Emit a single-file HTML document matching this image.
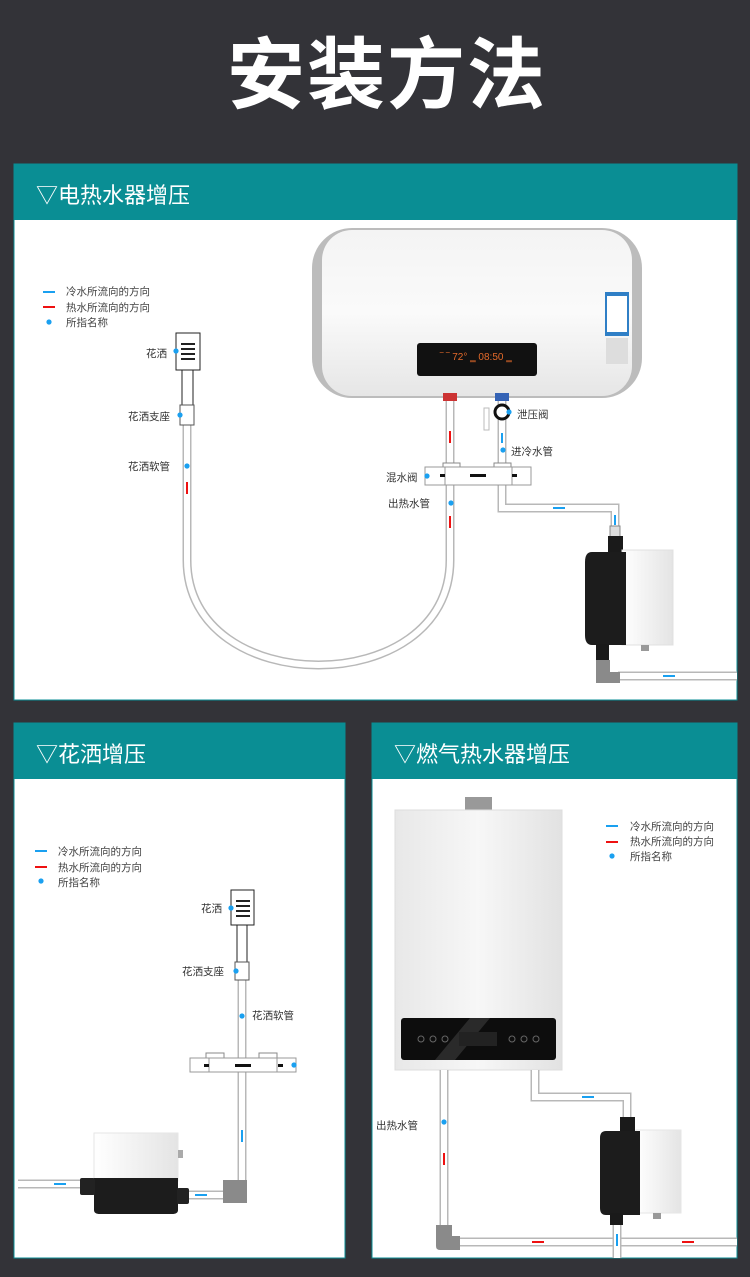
<!DOCTYPE html>
<html><head><meta charset="utf-8"><style>
html,body{margin:0;padding:0;background:#333338;}
body{width:750px;height:1272px;overflow:hidden;}
text{font-family:"Liberation Sans","Noto Sans CJK SC",sans-serif;}
</style></head><body>
<svg width="750" height="1272" viewBox="0 0 750 1272" xmlns="http://www.w3.org/2000/svg">
<defs>
<linearGradient id="tank" x1="0" y1="0" x2="0" y2="1"><stop offset="0" stop-color="#f4f4f4"/><stop offset="0.5" stop-color="#fafafa"/><stop offset="1" stop-color="#e6e6e6"/></linearGradient>
<linearGradient id="gas" x1="0" y1="0" x2="1" y2="0"><stop offset="0" stop-color="#e8e8e8"/><stop offset="0.5" stop-color="#f7f7f7"/><stop offset="1" stop-color="#e2e2e2"/></linearGradient>
<linearGradient id="wh" x1="0" y1="0" x2="1" y2="0"><stop offset="0" stop-color="#fff"/><stop offset="1" stop-color="#e4e4e4"/></linearGradient>
</defs>
<rect width="750" height="1272" fill="#333338"/>
<text x="387" y="102" font-size="78" font-weight="bold" fill="#fff" text-anchor="middle" letter-spacing="2">安装方法</text>

<!-- Panel 1 -->
<rect x="14" y="164" width="723" height="536" fill="#fff" stroke="#0a8e94" stroke-width="1"/>
<rect x="14" y="164" width="723" height="56" fill="#0a8e94"/>
<text x="36" y="203" font-size="22" fill="#fff">▽电热水器增压</text>
<g font-size="10.5" fill="#444">
<text x="66" y="295">冷水所流向的方向</text><text x="66" y="311">热水所流向的方向</text><text x="66" y="326">所指名称</text>
</g>
<path d="M43,292 h12" stroke="#1aa0f0" stroke-width="2"/><path d="M43,307 h12" stroke="#ee1111" stroke-width="2"/>
<circle cx="49" cy="322" r="2.6" fill="#1aa0f0"/>
<rect x="312" y="228" width="330" height="170" rx="40" fill="#bcbcbc"/>
<rect x="322" y="230" width="310" height="166" rx="30" fill="url(#tank)"/>
<rect x="417" y="343" width="120" height="33" rx="3" fill="#111"/>
<text x="440" y="360" font-size="10" fill="#e46a2a">‾ ‾ 72°  ‗ 08:50 ‗</text>
<rect x="605" y="292" width="24" height="44" fill="#2f7fc6"/><rect x="607" y="296" width="20" height="36" fill="#fff"/>
<rect x="606" y="338" width="22" height="26" fill="#ddd"/>
<g fill="none" stroke-linejoin="miter">
<path d="M450,398 V560 C450,700 187,700 187,560 V425" stroke="#b8b8b8" stroke-width="9"/>
<path d="M450,398 V560 C450,700 187,700 187,560 V425" stroke="#fff" stroke-width="6"/>
<path d="M502,398 V467 M502,485 V508 H615 V530" stroke="#b8b8b8" stroke-width="9"/>
<path d="M502,398 V467 M502,485 V508 H615 V530" stroke="#fff" stroke-width="6"/>
<path d="M618,676 H737" stroke="#b8b8b8" stroke-width="9"/><path d="M618,676 H737" stroke="#fff" stroke-width="6"/>
</g>
<rect x="443" y="393" width="14" height="8" fill="#c33"/><rect x="495" y="393" width="14" height="8" fill="#3563b5"/>
<circle cx="502" cy="412" r="7" fill="#fff" stroke="#111" stroke-width="3"/>
<rect x="484" y="408" width="5" height="22" fill="#fff" stroke="#bbb"/>
<rect x="443" y="463" width="17" height="5" fill="#fff" stroke="#888"/><rect x="494" y="463" width="17" height="5" fill="#fff" stroke="#888"/>
<rect x="425" y="467" width="106" height="18" fill="#fff" stroke="#999"/>
<rect x="445" y="467" width="67" height="18" fill="#fff" stroke="#999"/>
<rect x="470" y="474" width="16" height="3" fill="#111"/><rect x="440" y="474" width="5" height="3" fill="#111"/><rect x="512" y="474" width="5" height="3" fill="#111"/>
<rect x="176" y="333" width="24" height="37" fill="#fff" stroke="#222"/>
<g fill="#222"><rect x="181" y="343" width="14" height="2"/><rect x="181" y="348" width="14" height="2"/><rect x="181" y="353" width="14" height="2"/><rect x="181" y="358" width="14" height="2"/></g>
<rect x="182" y="370" width="11" height="38" fill="#fff" stroke="#222"/>
<rect x="180" y="405" width="14" height="20" fill="#fff" stroke="#555"/>
<rect x="610" y="526" width="10" height="12" fill="#ddd" stroke="#888"/>
<rect x="608" y="536" width="15" height="18" fill="#1a1a1a"/>
<rect x="622" y="550" width="51" height="95" fill="url(#wh)" stroke="#e0e0e0"/>
<path d="M592,552 H626 V645 H592 Q585,645 585,635 V562 Q585,552 592,552Z" fill="#1c1c1c"/>
<rect x="596" y="644" width="13" height="16" fill="#1a1a1a"/>
<path d="M596,660 H610 V672 H620 V683 H596Z" fill="#8a8a8a"/>
<rect x="641" y="645" width="8" height="6" fill="#999"/>
<g font-size="10.5" fill="#333">
<text x="146" y="357">花洒</text><text x="128" y="420">花洒支座</text><text x="128" y="470">花洒软管</text>
<text x="517" y="418">泄压阀</text><text x="511" y="455">进冷水管</text><text x="386" y="481">混水阀</text><text x="388" y="507">出热水管</text>
</g>
<g fill="#1aa0f0"><circle cx="176" cy="351" r="2.6"/><circle cx="180" cy="415" r="2.6"/><circle cx="187" cy="466" r="2.6"/><circle cx="509" cy="412" r="2.6"/><circle cx="503" cy="450" r="2.6"/><circle cx="427" cy="476" r="2.6"/><circle cx="451" cy="503" r="2.6"/></g>
<g stroke-width="2"><path d="M450,431 v12" stroke="#e11"/><path d="M450,516 v12" stroke="#e11"/><path d="M187,482 v12" stroke="#e11"/><path d="M502,433 v10" stroke="#1aa0f0"/><path d="M553,508 h12" stroke="#1aa0f0"/><path d="M615,515 v10" stroke="#1aa0f0"/><path d="M663,676 h12" stroke="#1aa0f0"/></g>

<!-- Panel 2 -->
<rect x="14" y="723" width="331" height="535" fill="#fff" stroke="#0a8e94"/>
<rect x="14" y="723" width="331" height="56" fill="#0a8e94"/>
<text x="36" y="762" font-size="22" fill="#fff">▽花洒增压</text>
<g font-size="10.5" fill="#444"><text x="58" y="855">冷水所流向的方向</text><text x="58" y="871">热水所流向的方向</text><text x="58" y="886">所指名称</text></g>
<path d="M35,851 h12" stroke="#1aa0f0" stroke-width="2"/><path d="M35,867 h12" stroke="#ee1111" stroke-width="2"/><circle cx="41" cy="881" r="2.6" fill="#1aa0f0"/>
<g fill="none">
<path d="M242,980 V1058 M242,1072 V1190" stroke="#b8b8b8" stroke-width="9"/><path d="M242,980 V1058 M242,1072 V1190" stroke="#fff" stroke-width="6"/>
<path d="M188,1195 H225" stroke="#b8b8b8" stroke-width="9"/><path d="M188,1195 H225" stroke="#fff" stroke-width="6"/>
<path d="M18,1184 H82" stroke="#b8b8b8" stroke-width="9"/><path d="M18,1184 H82" stroke="#fff" stroke-width="6"/>
</g>
<rect x="231" y="890" width="23" height="35" fill="#fff" stroke="#222"/>
<g fill="#222"><rect x="236" y="900" width="14" height="2"/><rect x="236" y="905" width="14" height="2"/><rect x="236" y="910" width="14" height="2"/><rect x="236" y="915" width="14" height="2"/></g>
<rect x="237" y="925" width="10" height="55" fill="#fff" stroke="#222"/>
<rect x="235" y="962" width="14" height="18" fill="#fff" stroke="#555"/>
<rect x="206" y="1053" width="18" height="5" fill="#fff" stroke="#888"/><rect x="259" y="1053" width="18" height="5" fill="#fff" stroke="#888"/>
<rect x="190" y="1058" width="106" height="14" fill="#fff" stroke="#999"/><rect x="209" y="1058" width="68" height="14" fill="#fff" stroke="#999"/>
<rect x="235" y="1064" width="16" height="3" fill="#111"/><rect x="204" y="1064" width="5" height="3" fill="#111"/><rect x="278" y="1064" width="5" height="3" fill="#111"/>
<path d="M223,1180 H247 V1203 H223Z" fill="#8a8a8a"/>
<rect x="94" y="1133" width="84" height="48" fill="url(#wh)" stroke="#e6e6e6"/>
<path d="M94,1178 H178 V1210 Q178,1214 172,1214 H100 Q94,1214 94,1210Z" fill="#1c1c1c"/>
<rect x="80" y="1178" width="15" height="17" rx="2" fill="#222"/><rect x="177" y="1188" width="12" height="16" rx="2" fill="#222"/>
<rect x="178" y="1150" width="5" height="8" fill="#aaa"/>
<g font-size="10.5" fill="#333"><text x="201" y="912">花洒</text><text x="182" y="975">花洒支座</text><text x="252" y="1019">花洒软管</text></g>
<g fill="#1aa0f0"><circle cx="231" cy="908" r="2.6"/><circle cx="236" cy="971" r="2.6"/><circle cx="242" cy="1016" r="2.6"/><circle cx="294" cy="1065" r="2.6"/></g>
<g stroke="#1aa0f0" stroke-width="2"><path d="M242,1130 v12"/><path d="M54,1184 h12"/><path d="M195,1195 h12"/></g>

<!-- Panel 3 -->
<rect x="372" y="723" width="365" height="535" fill="#fff" stroke="#0a8e94"/>
<rect x="372" y="723" width="365" height="56" fill="#0a8e94"/>
<text x="394" y="762" font-size="22" fill="#fff">▽燃气热水器增压</text>
<g font-size="10.5" fill="#444"><text x="630" y="830">冷水所流向的方向</text><text x="630" y="845">热水所流向的方向</text><text x="630" y="860">所指名称</text></g>
<path d="M606,826 h12" stroke="#1aa0f0" stroke-width="2"/><path d="M606,842 h12" stroke="#ee1111" stroke-width="2"/><circle cx="612" cy="856" r="2.6" fill="#1aa0f0"/>
<rect x="465" y="797" width="27" height="14" fill="#999"/>
<rect x="395" y="810" width="167" height="260" fill="url(#gas)" stroke="#ddd"/>
<rect x="401" y="1018" width="155" height="42" rx="3" fill="#0d0d0d"/>
<path d="M470,1018 L490,1018 L455,1060 L435,1060Z" fill="#2a2a2a"/>
<g fill="none" stroke="#666"><circle cx="421" cy="1039" r="3"/><circle cx="433" cy="1039" r="3"/><circle cx="445" cy="1039" r="3"/><circle cx="512" cy="1039" r="3"/><circle cx="524" cy="1039" r="3"/><circle cx="536" cy="1039" r="3"/></g>
<rect x="459" y="1032" width="38" height="14" fill="#222"/>
<g fill="none">
<path d="M444,1070 V1226" stroke="#b8b8b8" stroke-width="9"/><path d="M444,1070 V1226" stroke="#fff" stroke-width="6"/>
<path d="M535,1070 V1097 H627 V1118" stroke="#b8b8b8" stroke-width="9"/><path d="M535,1070 V1097 H627 V1118" stroke="#fff" stroke-width="6"/>
<path d="M458,1242 H737" stroke="#b8b8b8" stroke-width="9"/><path d="M458,1242 H737" stroke="#fff" stroke-width="6"/>
<path d="M617,1222 V1258" stroke="#b8b8b8" stroke-width="9"/><path d="M617,1222 V1258" stroke="#fff" stroke-width="6"/>
</g>
<path d="M436,1225 H452 V1236 H460 V1250 H440 Q436,1250 436,1246Z" fill="#8a8a8a"/>
<rect x="620" y="1117" width="15" height="18" fill="#1a1a1a"/>
<rect x="636" y="1130" width="45" height="83" fill="url(#wh)" stroke="#e6e6e6"/>
<path d="M606,1131 H640 V1215 H606 Q600,1215 600,1208 V1138 Q600,1131 606,1131Z" fill="#1c1c1c"/>
<rect x="610" y="1213" width="13" height="12" fill="#1a1a1a"/>
<rect x="653" y="1213" width="8" height="6" fill="#999"/>
<text x="376" y="1129" font-size="10.5" fill="#333">出热水管</text>
<circle cx="444" cy="1122" r="2.6" fill="#1aa0f0"/>
<g stroke-width="2"><path d="M444,1153 v12" stroke="#e11"/><path d="M532,1242 h12" stroke="#e11"/><path d="M682,1242 h12" stroke="#e11"/><path d="M582,1097 h12" stroke="#1aa0f0"/><path d="M617,1234 v12" stroke="#1aa0f0"/></g>
</svg>
</body></html>
